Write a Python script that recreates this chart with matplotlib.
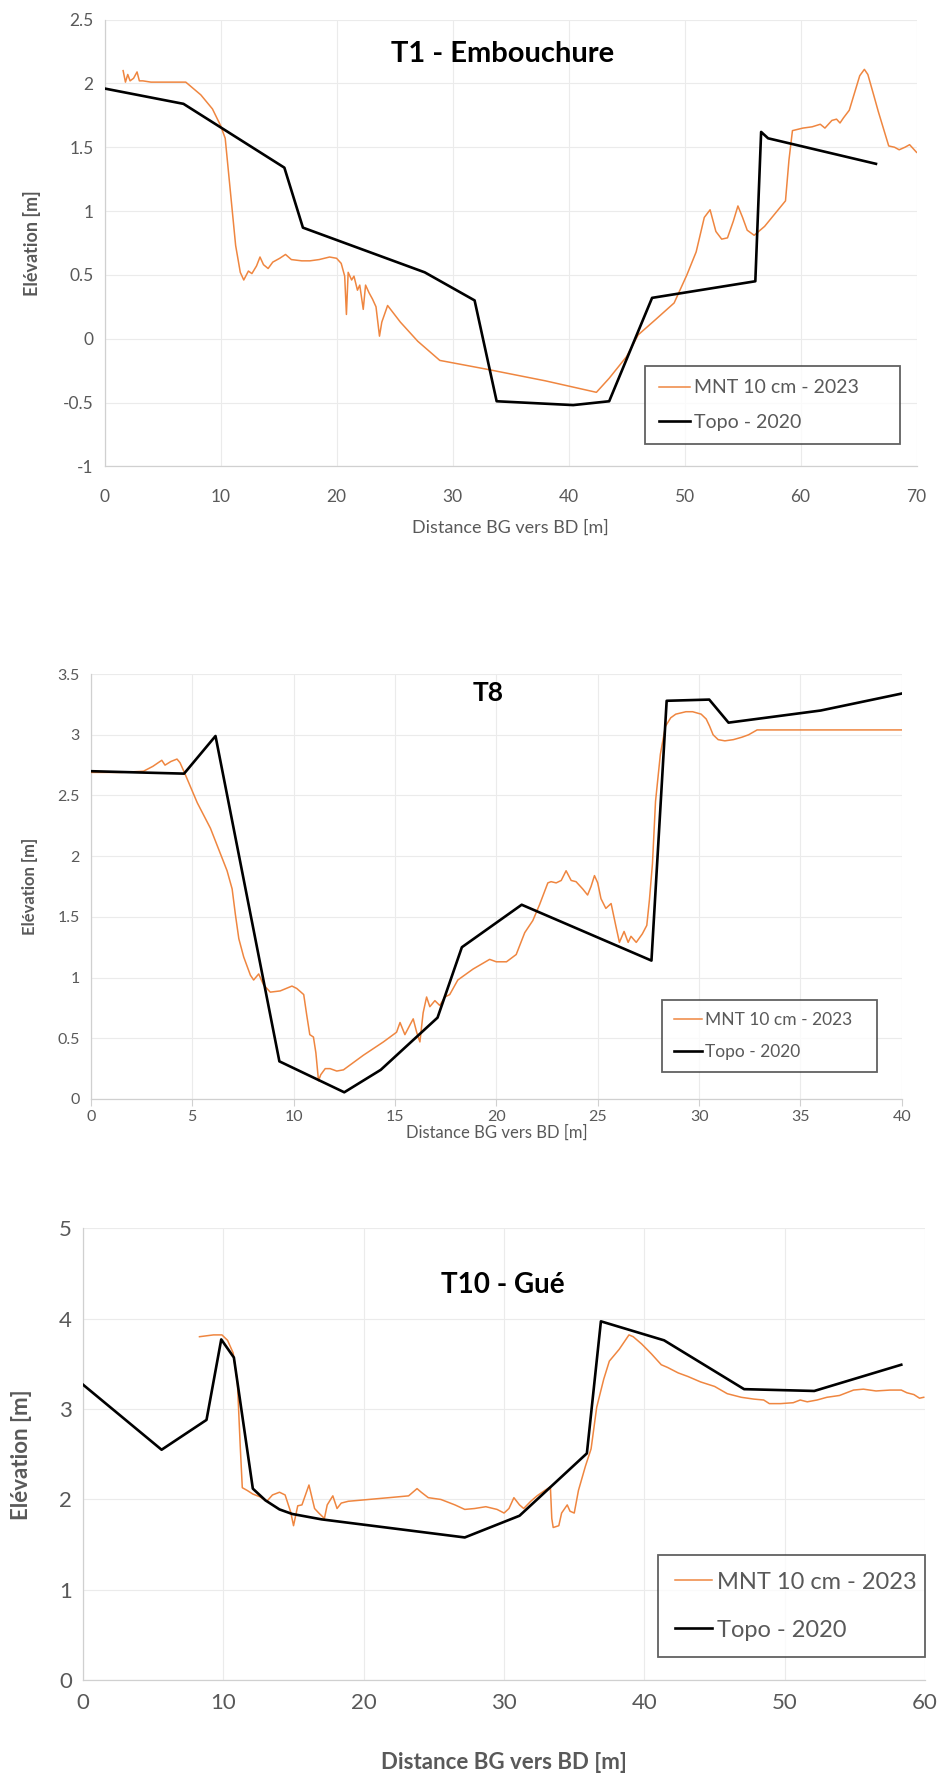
import matplotlib
matplotlib.use("Agg")
import matplotlib.pyplot as plt
from matplotlib.ticker import FuncFormatter, MultipleLocator

plt.rcParams["font.family"] = ["Lato", "DejaVu Sans"]

ORANGE = "#EF8640"
TEXT = "#595959"

# ---- T1 - Embouchure
t1_mnt_x = [1.6, 1.8, 2.0, 2.2, 2.5, 2.8, 3.0, 3.3, 4.0, 5.5, 7.0, 8.3, 9.3, 10.0, 10.4,
            10.85, 11.3, 11.7, 12.0, 12.4, 12.7, 13.1, 13.4, 13.7, 14.1, 14.5, 15.1, 15.6,
            16.1, 17.0, 17.7, 18.5, 19.4, 20.0, 20.4, 20.7, 20.85, 21.0, 21.3, 21.5, 21.8,
            22.0, 22.3, 22.5, 22.8, 23.1, 23.4, 23.7, 23.9, 24.4, 25.5, 27.0, 28.9, 33.0,
            38.0, 42.4, 43.5, 45.0, 46.0, 47.5, 49.1, 50.2, 51.0, 51.7, 52.2, 52.7, 53.2,
            53.7, 54.2, 54.6, 55.0, 55.4, 56.0, 56.9, 58.7, 59.0, 59.3, 60.2, 61.0, 61.7,
            62.1, 62.7, 63.1, 63.4, 63.7, 64.2, 64.6, 65.1, 65.5, 65.8, 66.3, 66.7, 67.2,
            67.6, 68.1, 68.5, 69.0, 69.4, 70.0]
t1_mnt_y = [2.10, 2.01, 2.07, 2.02, 2.04, 2.09, 2.02, 2.02, 2.01, 2.01, 2.01, 1.91, 1.80,
            1.67, 1.57, 1.15, 0.73, 0.52, 0.46, 0.53, 0.51, 0.57, 0.64, 0.58, 0.55, 0.60,
            0.63, 0.66, 0.62, 0.61, 0.61, 0.62, 0.64, 0.63, 0.59, 0.49, 0.19, 0.52, 0.46,
            0.49, 0.38, 0.42, 0.23, 0.42, 0.36, 0.31, 0.25, 0.02, 0.13, 0.26, 0.13, -0.02,
            -0.17, -0.24, -0.33, -0.42, -0.31, -0.14, 0.03, 0.15, 0.28, 0.50, 0.68, 0.95,
            1.01, 0.84, 0.78, 0.79, 0.92, 1.04, 0.95, 0.85, 0.81, 0.88, 1.08, 1.40, 1.63,
            1.65, 1.66, 1.68, 1.65, 1.71, 1.72, 1.69, 1.73, 1.79, 1.91, 2.06, 2.11, 2.07,
            1.91, 1.78, 1.63, 1.51, 1.50, 1.48, 1.50, 1.52, 1.46]
t1_topo_x = [0, 6.8, 15.5, 17.1, 27.6, 31.9, 33.8, 40.4, 43.5, 47.2, 56.1, 56.6, 57.2, 66.5]
t1_topo_y = [1.96, 1.84, 1.34, 0.87, 0.52, 0.30, -0.49, -0.52, -0.49, 0.32, 0.45, 1.62,
             1.57, 1.37]

# ---- T8
t8_mnt_x = [0, 1.5, 2.6, 3.06, 3.5, 3.66, 3.95, 4.25, 4.4, 4.64, 5.25, 5.9, 6.72, 6.97,
            7.13, 7.3, 7.54, 7.87, 8.03, 8.28, 8.52, 8.85, 9.34, 9.92, 10.16, 10.5, 10.65,
            10.8, 10.98, 11.1, 11.23, 11.34, 11.56, 11.8, 12.13, 12.46, 13.44, 14.43, 15.08,
            15.25, 15.49, 15.74, 15.9, 16.07, 16.23, 16.39, 16.56, 16.72, 16.97, 17.21,
            17.46, 17.7, 18.1, 18.85, 19.67, 20.0, 20.5, 20.98, 21.4, 21.8, 22.13, 22.54,
            22.7, 22.95, 23.2, 23.44, 23.69, 23.93, 24.26, 24.5, 24.67, 24.84, 25.0, 25.16,
            25.4, 25.66, 25.9, 26.07, 26.3, 26.5, 26.64, 26.9, 27.2, 27.42, 27.55, 27.7,
            27.85, 28.09, 28.34, 28.6, 28.85, 29.35, 29.68, 30.1, 30.35, 30.52, 30.69,
            30.94, 31.27, 31.69, 32.11, 32.44, 32.86, 40.0]
t8_mnt_y = [2.69, 2.69, 2.70, 2.74, 2.79, 2.75, 2.78, 2.80, 2.77, 2.68, 2.44, 2.23, 1.88,
            1.73, 1.52, 1.32, 1.17, 1.02, 0.98, 1.03, 0.94, 0.88, 0.89, 0.93, 0.91, 0.86,
            0.69, 0.53, 0.51, 0.38, 0.15, 0.20, 0.25, 0.25, 0.23, 0.24, 0.36, 0.47, 0.55,
            0.63, 0.53, 0.61, 0.66, 0.55, 0.47, 0.71, 0.84, 0.76, 0.81, 0.77, 0.84, 0.86,
            0.98, 1.07, 1.15, 1.13, 1.13, 1.19, 1.37, 1.47, 1.60, 1.78, 1.79, 1.78, 1.80,
            1.88, 1.80, 1.79, 1.73, 1.68, 1.75, 1.84, 1.78, 1.65, 1.57, 1.61, 1.42, 1.29,
            1.38, 1.29, 1.34, 1.29, 1.36, 1.43, 1.64, 1.94, 2.45, 2.84, 3.07, 3.14, 3.17,
            3.19, 3.19, 3.17, 3.13, 3.07, 3.00, 2.96, 2.95, 2.96, 2.98, 3.00, 3.04, 3.04]
t8_topo_x = [0, 4.6, 6.15, 9.3, 12.5, 14.3, 17.1, 18.3, 21.25, 27.65, 28.4, 30.5, 31.45,
             36.0, 40.0]
t8_topo_y = [2.70, 2.68, 2.99, 0.31, 0.055, 0.24, 0.67, 1.25, 1.60, 1.14, 3.28, 3.29, 3.10,
             3.20, 3.34]

# ---- T10 - Gué
t10_mnt_x = [8.3, 8.8, 9.3, 9.9, 10.3, 10.7, 11.0, 11.2, 11.35, 11.7, 12.1, 12.6, 13.1,
             13.5, 14.0, 14.4, 14.8, 15.0, 15.3, 15.6, 16.1, 16.5, 16.8, 17.2, 17.4, 17.8,
             18.1, 18.4, 18.9, 20.35, 21.8, 23.2, 23.8, 24.1, 24.6, 25.5, 26.5, 27.2, 27.9,
             28.7, 29.5, 30.0, 30.35, 30.7, 31.1, 31.4, 31.9, 32.35, 32.9, 33.3, 33.4, 33.5,
             33.9, 34.1, 34.5, 34.7, 35.0, 35.3, 35.8, 36.2, 36.6, 37.1, 37.5, 38.2, 38.9,
             39.2, 39.8, 40.5, 41.2, 41.65, 42.4, 43.1, 44.0, 45.0, 45.9, 46.9, 47.8, 48.5,
             48.9, 49.7, 50.6, 51.1, 51.6, 52.3, 53.0, 53.9, 54.9, 55.6, 56.5, 57.5, 58.3,
             58.7, 59.2, 59.6, 59.9]
t10_mnt_y = [3.80, 3.81, 3.82, 3.82, 3.76, 3.62, 3.30, 2.60, 2.13, 2.10, 2.06, 2.03, 1.98,
             2.05, 2.08, 2.05, 1.86, 1.71, 1.93, 1.94, 2.16, 1.90, 1.85, 1.79, 1.94, 2.04,
             1.90, 1.96, 1.98, 2.00, 2.02, 2.04, 2.12, 2.08, 2.02, 2.00, 1.94, 1.89, 1.90,
             1.92, 1.89, 1.85, 1.90, 2.02, 1.94, 1.90, 1.98, 2.04, 2.10, 2.14, 1.79, 1.69,
             1.71, 1.85, 1.94, 1.87, 1.85, 2.10, 2.37, 2.56, 3.02, 3.33, 3.53, 3.66, 3.82,
             3.80, 3.72, 3.61, 3.49, 3.46, 3.40, 3.36, 3.30, 3.25, 3.17, 3.13, 3.11, 3.10,
             3.06, 3.06, 3.07, 3.10, 3.08, 3.10, 3.13, 3.15, 3.21, 3.22, 3.20, 3.21, 3.21,
             3.18, 3.16, 3.12, 3.13]
t10_topo_x = [0, 5.6, 8.8, 9.85, 10.75, 12.1, 13.0, 14.0, 14.9, 17.0, 27.2, 31.1, 35.9,
              36.9, 41.4, 47.1, 52.1, 58.3]
t10_topo_y = [3.27, 2.55, 2.88, 3.77, 3.57, 2.12, 1.99, 1.89, 1.84, 1.78, 1.58, 1.82, 2.51,
              3.97, 3.76, 3.22, 3.20, 3.49]


def draw_panel(ax, mnt_x, mnt_y, topo_x, topo_y, title, xlim, xstep, ylim, ystep,
               tick_fs, label_fs, legend_fs, title_fs, title_pos, legend_box, ylabel_x,
               xlabel_bold=False, tick_marks=False, tick_pad=10, xlabel_pad=4,
               leg_spacing=0.9):
    ax.plot(mnt_x, mnt_y, color=ORANGE, lw=1.1, label="MNT 10 cm - 2023", zorder=3)
    ax.plot(topo_x, topo_y, color="black", lw=1.9, label="Topo - 2020", zorder=4)
    ax.set_xlim(*xlim)
    ax.set_ylim(*ylim)
    ax.xaxis.set_major_locator(MultipleLocator(xstep))
    ax.yaxis.set_major_locator(MultipleLocator(ystep))
    fmt = FuncFormatter(lambda v, _: f"{v:g}")
    ax.xaxis.set_major_formatter(fmt)
    ax.yaxis.set_major_formatter(fmt)
    ax.grid(True, color="#EBEBEB", lw=0.8, zorder=0)
    for side in ("top", "right"):
        ax.spines[side].set_visible(False)
    for side in ("left", "bottom"):
        ax.spines[side].set_color("#D0D0D0")
        ax.spines[side].set_linewidth(0.9)
    ax.tick_params(axis="y", length=0, colors=TEXT, labelsize=tick_fs, pad=8)
    ax.tick_params(axis="x", length=5 if tick_marks else 0, color="#D0D0D0",
                   colors=TEXT, labelsize=tick_fs, pad=tick_pad)
    ax.set_xlabel("Distance BG vers BD [m]", fontsize=label_fs, color=TEXT,
                  fontweight="bold" if xlabel_bold else "normal", labelpad=xlabel_pad)
    ax.set_ylabel("Elévation [m]", fontsize=label_fs, color=TEXT, fontweight="bold")
    ax.yaxis.set_label_coords(ylabel_x, 0.5)
    ax.text(title_pos[0], title_pos[1], title, transform=ax.transAxes, ha="center",
            va="center", fontsize=title_fs, fontweight="bold", color="black")
    leg = ax.legend(loc="lower left", bbox_to_anchor=legend_box, mode="expand",
                    fontsize=legend_fs, frameon=True, fancybox=False,
                    handlelength=1.6, handletextpad=0.2, borderaxespad=0,
                    labelspacing=leg_spacing, borderpad=0.7)
    leg.get_frame().set_edgecolor("#3A3A3A")
    leg.get_frame().set_linewidth(1.3)
    for t in leg.get_texts():
        t.set_color(TEXT)


fig = plt.figure(figsize=(9.42, 17.8), dpi=100)
ax1 = fig.add_axes([0.111, 0.738, 0.862, 0.251])
ax2 = fig.add_axes([0.0964, 0.3826, 0.861, 0.2387])
ax3 = fig.add_axes([0.0881, 0.056, 0.894, 0.254])

draw_panel(ax1, t1_mnt_x, t1_mnt_y, t1_topo_x, t1_topo_y, "T1 - Embouchure",
           (0, 70), 10, (-1, 2.5), 0.5, 12.5, 13, 14, 21, (0.49, 0.922),
           (0.666, 0.049, 0.314, 0.168), -0.078, tick_pad=16, xlabel_pad=11)
draw_panel(ax2, t8_mnt_x, t8_mnt_y, t8_topo_x, t8_topo_y, "T8",
           (0, 40), 5, (0, 3.5), 0.5, 11.5, 12, 12.5, 19, (0.49, 0.955),
           (0.704, 0.064, 0.265, 0.185), -0.065, tick_marks=True, tick_pad=3,
           xlabel_pad=0)
draw_panel(ax3, t10_mnt_x, t10_mnt_y, t10_topo_x, t10_topo_y, "T10 - Gué",
           (0, 60), 10, (0, 5), 1, 16, 16, 17, 20, (0.498, 0.875),
           (0.683, 0.051, 0.317, 0.2), -0.060, xlabel_bold=True, tick_pad=9,
           xlabel_pad=28, leg_spacing=1.15)

fig.savefig("out.png", dpi=100, facecolor="white")
